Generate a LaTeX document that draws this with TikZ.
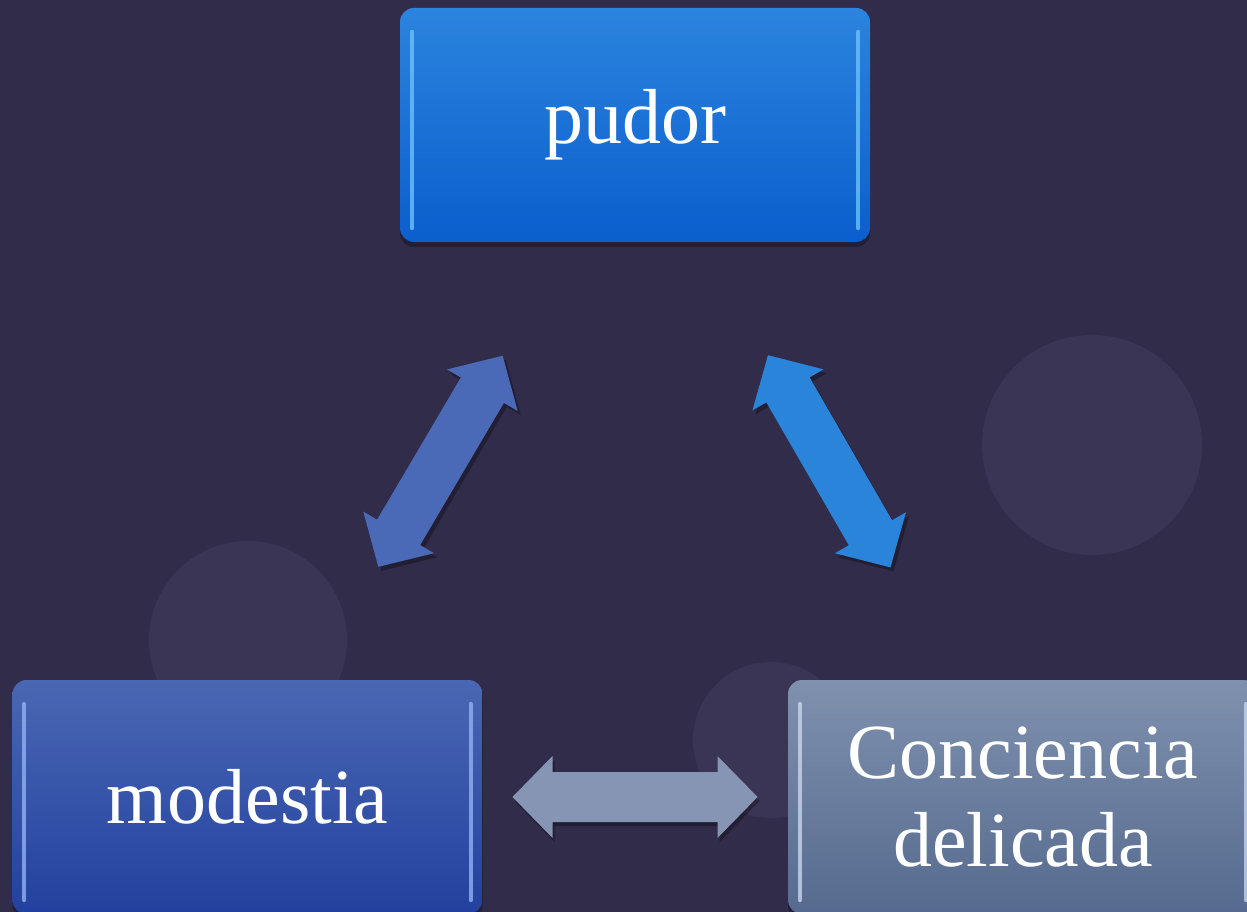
\documentclass[tikz,border=0pt]{standalone}
\usepackage{fontspec}
\setmainfont{Liberation Serif}
\usetikzlibrary{shadows,shadings}
\definecolor{bgcol}{HTML}{312C4A}
\definecolor{circcol}{HTML}{3A3554}
\definecolor{pudTop}{HTML}{2B84DE}
\definecolor{pudBot}{HTML}{0B5ECD}
\definecolor{pudHi}{HTML}{6CC0FA}
\definecolor{modTop}{HTML}{4A67B3}
\definecolor{modBot}{HTML}{22419E}
\definecolor{modHi}{HTML}{92B0F2}
\definecolor{conTop}{HTML}{8091AF}
\definecolor{conBot}{HTML}{556A8E}
\definecolor{conHi}{HTML}{C8D6EC}
\definecolor{arrL}{HTML}{4A6AB7}
\definecolor{arrR}{HTML}{2A84DA}
\definecolor{arrH}{HTML}{8595B3}
\tikzset{
  box/.style={rounded corners=14pt, minimum width=470pt, minimum height=234pt,
    inner sep=0pt, align=center, text=white, font=\fontsize{78}{85}\selectfont,
    drop shadow={shadow xshift=0pt, shadow yshift=-5pt, opacity=0.3, fill=black}},
  hiline/.style={line width=4pt, line cap=round, opacity=0.8},
  dblarrow/.pic={
    \fill[pic actions] (-122.5,0) -- (-82.5,41) -- (-82.5,25) -- (82.5,25) -- (82.5,41)
      -- (122.5,0) -- (82.5,-41) -- (82.5,-25) -- (-82.5,-25) -- (-82.5,-41) -- cycle;
  },
  arrshadow/.style={fill=black, opacity=0.3}
}
\begin{document}
\begin{tikzpicture}[x=1pt,y=-1pt]
\useasboundingbox (0,0) rectangle (1247,912);
\clip (0,0) rectangle (1247,912);
\fill[bgcol] (0,0) rectangle (1247,912);
% faint background circles
\fill[circcol] (1092,445) circle (110);
\fill[circcol] (248,640) circle (99);
\fill[circcol] (771,740) circle (78);
% boxes
\node[box, top color=pudTop, bottom color=pudBot] (pudor) at (635,125) {\raisebox{-3pt}{pudor}};
\node[box, top color=modTop, bottom color=modBot] (modestia) at (247.5,797) {modestia};
\node[box, top color=conTop, bottom color=conBot] (conciencia) at (1023,797) {\raisebox{3pt}{Conciencia}\\delicada};
% highlights
\foreach \n/\c in {pudor/pudHi, modestia/modHi, conciencia/conHi}{
  \draw[hiline, \c] ([xshift=12pt,yshift=-24pt]\n.north west) -- ([xshift=12pt,yshift=14pt]\n.south west);
  \draw[hiline, \c] ([xshift=-12pt,yshift=-24pt]\n.north east) -- ([xshift=-12pt,yshift=14pt]\n.south east);
}
% arrows
\pic[arrshadow, rotate=59.5] at (443.5,465.3) {dblarrow};
\pic[fill=arrL, rotate=59.5] at (440.5,461.3) {dblarrow};
\pic[arrshadow, rotate=-60] at (832.2,465.3) {dblarrow};
\pic[fill=arrR, rotate=-60] at (829.2,461.3) {dblarrow};
\pic[arrshadow] at (637,801) {dblarrow};
\pic[fill=arrH] at (635,797) {dblarrow};
\end{tikzpicture}
\end{document}
